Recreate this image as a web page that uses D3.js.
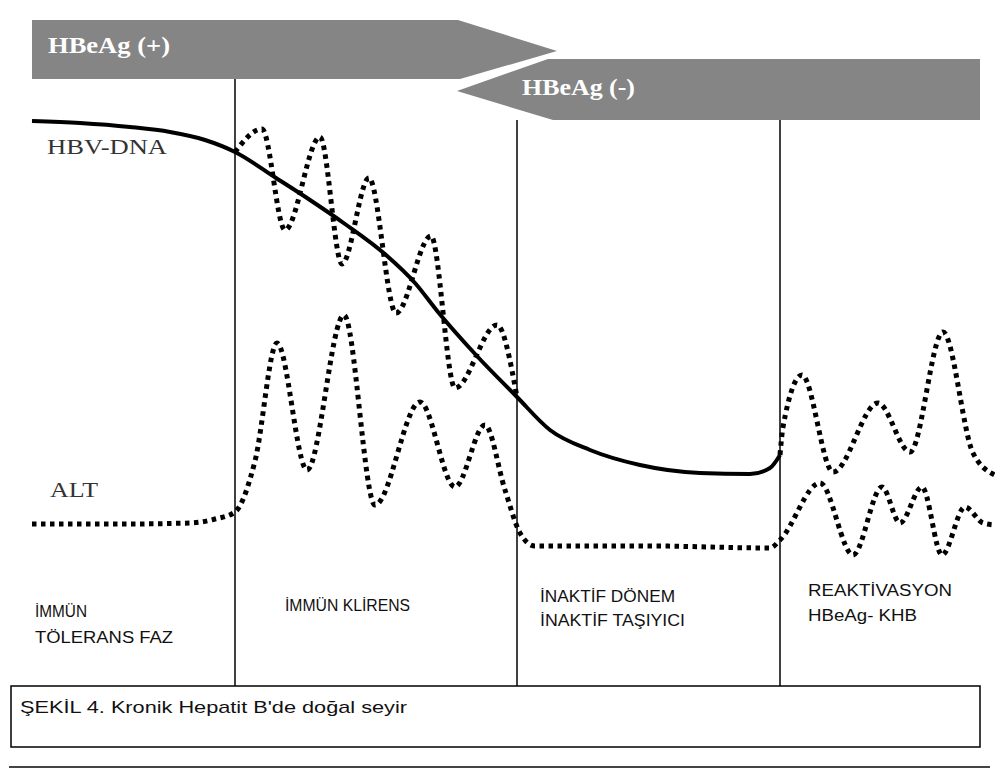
<!DOCTYPE html>
<html>
<head>
<meta charset="utf-8">
<script src="https://cdn.jsdelivr.net/npm/d3@7"></script>
<style>
  body { margin: 0; background: #fff; }
  svg { display: block; }
</style>
</head>
<body>
<div id="chart"></div>
<script>
// time runs left to right, level is relative height; both in arbitrary units
const hbvDna = [[0, 439], [48, 437], [98, 433], [138, 428], [173, 420], [203, 408], [244, 382], [278, 360],
  [313, 336], [354, 305], [383, 277], [406, 248], [444, 205], [485, 163], [518, 130], [558, 110],
  [608, 95], [668, 87], [718, 86], [738, 92], [748, 105]]
const hbvFlares = [[203, 408], [230, 431], [253, 330], [288, 423], [310, 296], [337, 382], [364, 247],
  [399, 324], [423, 172], [465, 235], [485, 163]]
const hbvReactivation = [[748, 105], [751, 133], [770, 185], [801, 88], [846, 157], [878, 108],
  [911, 228], [941, 107], [963, 85]]
const alt = [[0, 36], [88, 36], [158, 37], [183, 41], [203, 48], [223, 99], [245, 217], [275, 90],
  [312, 245], [343, 55], [388, 158], [423, 73], [453, 135], [473, 70], [488, 27], [503, 14],
  [618, 14], [738, 12], [748, 20], [788, 77], [821, 5], [850, 73], [868, 37], [890, 73], [910, 5],
  [933, 53], [951, 37], [963, 35]]
const phaseBounds = [203, 485, 748]
const phaseNames = [['İMMÜN', 'TÖLERANS FAZ'], ['İMMÜN KLİRENS'], ['İNAKTİF DÖNEM', 'İNAKTİF TAŞIYICI'], ['REAKTİVASYON', 'HBeAg- KHB']]
const bandNames = ['HBeAg (+)', 'HBeAg (-)']
const seriesNames = ['HBV-DNA', 'ALT']
const caption = "ŞEKİL 4. Kronik Hepatit B'de doğal seyir"

const width = 995
const height = 769

const svg = d3.select('#chart').append('svg')
  .attr('width', width)
  .attr('height', height)

const xScale = d3.scaleLinear().domain([0, 963]).range([32, 995])
const yScale = d3.scaleLinear().domain([0, 450]).range([560, 110])

const curve = d3.line()
  .x(d => xScale(d[0]))
  .y(d => yScale(d[1]))
  .curve(d3.curveMonotoneX)

// text helper, stretched to the measured width like the original bitmap
function label (g, str, x, y, opts) {
  return g.append('text')
    .attr('x', x)
    .attr('y', y)
    .attr('textLength', opts.len)
    .attr('lengthAdjust', 'spacingAndGlyphs')
    .style('font-family', opts.family)
    .style('font-size', opts.size + 'px')
    .style('font-weight', opts.weight || 'normal')
    .style('fill', opts.fill || '#222')
    .text(str)
}

// HBeAg arrows
const poly = d3.line()
const bands = svg.append('g').attr('class', 'bands')
bands.append('path')
  .attr('d', poly([[32, 20], [458, 20], [557, 51], [460, 79], [32, 79]]) + 'Z')
  .attr('fill', '#858585')
bands.append('path')
  .attr('d', poly([[548, 59], [980, 59], [980, 120], [553, 120], [457, 91]]) + 'Z')
  .attr('fill', '#858585')
label(bands, bandNames[0], 48, 53, { family: '"Liberation Serif", serif', size: 23, weight: 'bold', fill: '#fff', len: 122 })
label(bands, bandNames[1], 522, 95, { family: '"Liberation Serif", serif', size: 23, weight: 'bold', fill: '#fff', len: 113 })

// phase separators
svg.append('g').selectAll('line')
  .data(phaseBounds)
  .join('line')
  .attr('x1', d => xScale(d))
  .attr('x2', d => xScale(d))
  .attr('y1', (d, i) => i === 0 ? 79 : 120)
  .attr('y2', 686)
  .attr('stroke', '#000')
  .attr('stroke-width', 1.5)

// curves
const lines = svg.append('g').attr('fill', 'none').attr('stroke', '#000')
lines.append('path')
  .attr('d', curve(hbvDna))
  .attr('stroke-width', 4)
lines.selectAll('.dotted')
  .data([hbvFlares, hbvReactivation, alt])
  .join('path')
  .attr('class', 'dotted')
  .attr('d', curve)
  .attr('stroke-width', 5)
  .attr('stroke-dasharray', '4.5,4.5')

// series labels
label(svg, seriesNames[0], 47, 154, { family: '"Liberation Serif", serif', size: 22, len: 120, fill: '#333' })
label(svg, seriesNames[1], 50, 497, { family: '"Liberation Serif", serif', size: 22, len: 48, fill: '#333' })

// phase labels
const phaseLayout = [
  { x: 35, y: [617, 643], len: [52, 138] },
  { x: 285, y: [611], len: [125] },
  { x: 540, y: [602, 626], len: [135, 145] },
  { x: 808, y: [596, 621], len: [144, 109] }
]
phaseNames.forEach((lns, i) => {
  lns.forEach((s, j) => {
    label(svg, s, phaseLayout[i].x, phaseLayout[i].y[j], {
      family: '"Liberation Sans", Arial, sans-serif', size: 16, len: phaseLayout[i].len[j], fill: '#111'
    })
  })
})

// caption box
svg.append('rect')
  .attr('x', 11)
  .attr('y', 686)
  .attr('width', 969)
  .attr('height', 61)
  .attr('fill', '#fff')
  .attr('stroke', '#000')
  .attr('stroke-width', 1.5)
label(svg, caption, 20, 713, { family: '"Liberation Sans", Arial, sans-serif', size: 17, len: 387, fill: '#111' })

svg.append('line')
  .attr('x1', 9)
  .attr('x2', 990)
  .attr('y1', 767)
  .attr('y2', 767)
  .attr('stroke', '#444')
  .attr('stroke-width', 2)
</script>
</body>
</html>
